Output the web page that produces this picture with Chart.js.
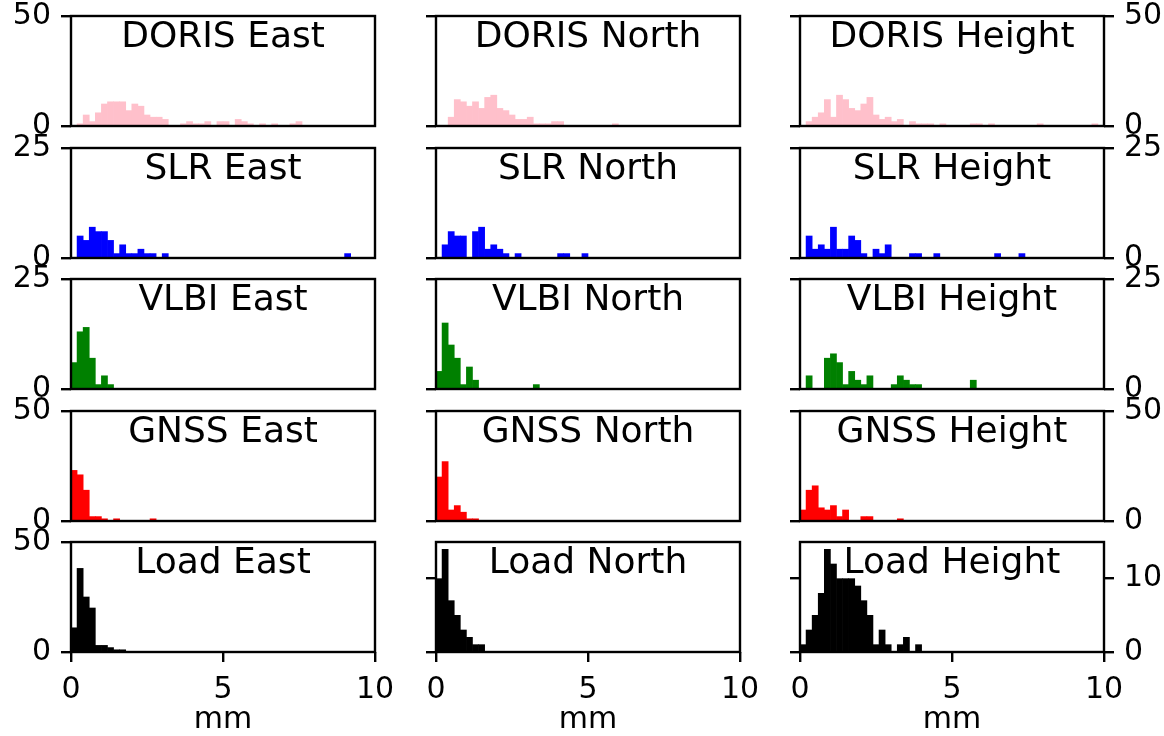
<!DOCTYPE html>
<html>
<head>
<meta charset="utf-8">
<title>Residual histograms</title>
<script src="https://cdn.jsdelivr.net/npm/chart.js@4.4.1/dist/chart.umd.min.js"></script>
<style>
  html, body { margin: 0; padding: 0; background: #fff; }
  #figure { position: relative; width: 1164px; height: 736px; overflow: hidden; }
  #figure canvas { position: absolute; }
</style>
</head>
<body>
<div id="figure"></div>
<script>
// Counts per 0.2 mm bin, first bin starts at 0 mm
const binWidth = 0.2;
const xTicks = [0, 5, 10];

const dorisEast = [0, 1, 5, 2, 6, 10, 11, 11, 11, 7, 10, 9, 5, 4, 4, 3, 0, 0, 1, 2, 1, 1, 2, 0, 2, 2, 0, 3, 2, 1, 0, 1, 0, 1, 0, 0, 1, 2];
const dorisNorth = [0, 0, 4, 12, 11, 9, 11, 8, 13, 14, 8, 7, 5, 3, 3, 4, 1, 1, 1, 2, 2, 0, 0, 0, 0, 0, 0, 0, 0, 1];
const dorisHeight = [0, 2, 4, 6, 12, 4, 14, 12, 8, 7, 10, 13, 5, 3, 4, 2, 3, 0, 2, 1, 1, 1, 0, 1, 0, 0, 0, 0, 1, 1, 0, 1, 0, 0, 0, 0, 0, 0, 0, 1, 0, 0, 0, 0, 0, 0, 0, 0, 1];

const slrEast = [0, 5, 4, 7, 6, 6, 4, 1, 3, 1, 1, 2, 1, 1, 0, 1, 0, 0, 0, 0, 0, 0, 0, 0, 0, 0, 0, 0, 0, 0, 0, 0, 0, 0, 0, 0, 0, 0, 0, 0, 0, 0, 0, 0, 0, 1];
const slrNorth = [0, 3, 6, 5, 5, 0, 6, 7, 2, 3, 2, 1, 0, 1, 0, 0, 0, 0, 0, 0, 1, 1, 0, 0, 1];
const slrHeight = [0, 5, 2, 3, 2, 7, 2, 2, 5, 4, 1, 0, 2, 1, 3, 0, 0, 0, 1, 1, 0, 0, 1, 0, 0, 0, 0, 0, 0, 0, 0, 0, 1, 0, 0, 0, 1];

const vlbiEast = [6, 13, 14, 7, 1, 3, 1];
const vlbiNorth = [4, 15, 10, 7, 1, 5, 2, 0, 0, 0, 0, 0, 0, 0, 0, 0, 1];
const vlbiHeight = [0, 3, 0, 0, 7, 8, 6, 1, 4, 2, 1, 3, 0, 0, 0, 1, 3, 2, 1, 1, 0, 0, 0, 0, 0, 0, 0, 0, 2];

const gnssEast = [23, 21, 14, 2, 2, 1, 0, 1, 0, 0, 0, 0, 0, 1];
const gnssNorth = [20, 27, 5, 7, 4, 1, 1];
const gnssHeight = [5, 14, 16, 6, 5, 7, 2, 5, 0, 0, 2, 2, 0, 0, 0, 0, 1];

const loadEast = [11, 38, 25, 20, 3, 3, 2, 1, 1];
const loadNorth = [10, 14, 7, 5, 3, 2, 1, 1];
const loadHeight = [1, 3, 5, 8, 14, 12, 10, 10, 10, 9, 7, 5, 1, 3, 1, 0, 1, 2, 0, 1];

const techniques = ['DORIS', 'SLR', 'VLBI', 'GNSS', 'Load'];
const components = ['East', 'North', 'Height'];

const counts = [
  [dorisEast, dorisNorth, dorisHeight],
  [slrEast, slrNorth, slrHeight],
  [vlbiEast, vlbiNorth, vlbiHeight],
  [gnssEast, gnssNorth, gnssHeight],
  [loadEast, loadNorth, loadHeight]
];

const yMax = [
  [50, 50, 50],
  [25, 25, 25],
  [25, 25, 25],
  [50, 50, 50],
  [50, 15, 15]
];

const yTicks = [
  [[0, 50], [0, 50], [0, 50]],
  [[0, 25], [0, 25], [0, 25]],
  [[0, 25], [0, 25], [0, 25]],
  [[0, 50], [0, 50], [0, 50]],
  [[0, 50], [0, 10], [0, 10]]
];

const barColors = ['pink', 'blue', 'green', 'red', 'black'];

// grid geometry (px)
const plotLeft = [71, 436, 800];
const plotTop = [16, 148, 279, 411, 542];
const plotW = 304;
const plotH = 110;
const sideW = 80;
const padTop = 30;
const lastRowBottom = 86;

Chart.defaults.font.family = '"DejaVu Sans", sans-serif';
Chart.defaults.font.size = 30;
Chart.defaults.color = '#000';

// box round the axes plus the title written inside its top
const panelDecor = {
  id: 'panelDecor',
  afterDatasetsDraw(chart, args, opts) {
    const { ctx, chartArea: a } = chart;
    ctx.save();
    ctx.strokeStyle = '#000';
    ctx.lineWidth = 2.4;
    ctx.strokeRect(a.left, a.top, a.right - a.left, a.bottom - a.top);
    ctx.fillStyle = '#000';
    ctx.font = '36px "DejaVu Sans"';
    ctx.textAlign = 'center';
    ctx.textBaseline = 'alphabetic';
    ctx.fillText(opts.text, (a.left + a.right) / 2, a.top + 31);
    ctx.restore();
  }
};

function fixedTicks(values) {
  return function(scale) {
    scale.ticks = values.map(v => ({ value: v }));
  };
}

function yAxis(position, max, ticks, showLabels) {
  return {
    type: 'linear',
    axis: 'y',
    position: position,
    min: 0,
    max: max,
    afterBuildTicks: fixedTicks(ticks),
    afterFit: function(scale) { scale.width = sideW; },
    ticks: { display: showLabels, padding: 10, color: '#000' },
    grid: { display: true, drawOnChartArea: false, drawTicks: true, tickLength: 10, color: '#000', lineWidth: 2.4 },
    border: { display: false }
  };
}

function xAxis(isLastRow) {
  const axis = {
    type: 'linear',
    min: 0,
    max: 10,
    offset: false,
    display: isLastRow,
    afterBuildTicks: fixedTicks(xTicks),
    ticks: { padding: 10, color: '#000', maxRotation: 0, autoSkip: false },
    grid: { display: true, offset: false, drawOnChartArea: false, drawTicks: true, tickLength: 10, color: '#000', lineWidth: 2.4 },
    border: { display: false },
    title: { display: true, text: 'mm', color: '#000', padding: { top: 0, bottom: 0 } }
  };
  if (isLastRow) {
    axis.afterFit = function(scale) { scale.height = lastRowBottom; };
  }
  return axis;
}

const figure = document.getElementById('figure');

for (let r = 0; r < techniques.length; r++) {
  for (let c = 0; c < components.length; c++) {
    const isLastRow = r === techniques.length - 1;
    const isRightCol = c === components.length - 1;

    const canvas = document.createElement('canvas');
    const w = sideW + plotW + sideW;
    const h = padTop + plotH + (isLastRow ? lastRowBottom : padTop);
    canvas.width = w;
    canvas.height = h;
    canvas.style.left = (plotLeft[c] - sideW) + 'px';
    canvas.style.top = (plotTop[r] - padTop) + 'px';
    canvas.style.width = w + 'px';
    canvas.style.height = h + 'px';
    figure.appendChild(canvas);

    const bins = counts[r][c].map((n, i) => ({ x: (i + 0.5) * binWidth, y: n }));

    const scales = { x: xAxis(isLastRow) };
    if (isRightCol) {
      scales.y = yAxis('right', yMax[r][c], yTicks[r][c], true);
      scales.yl = yAxis('left', yMax[r][c], yTicks[r][c], false);
    } else {
      scales.y = yAxis('left', yMax[r][c], yTicks[r][c], c === 0);
    }

    new Chart(canvas, {
      type: 'bar',
      data: {
        datasets: [{
          data: bins,
          backgroundColor: barColors[r],
          borderWidth: 0,
          barPercentage: 1,
          categoryPercentage: 1,
          xAxisID: 'x',
          yAxisID: 'y'
        }]
      },
      options: {
        responsive: false,
        animation: false,
        devicePixelRatio: 1,
        layout: {
          padding: {
            top: padTop,
            left: 0,
            right: isRightCol ? 0 : sideW,
            bottom: isLastRow ? 0 : padTop
          }
        },
        scales: scales,
        plugins: {
          legend: { display: false },
          tooltip: { enabled: false },
          panelDecor: { text: techniques[r] + ' ' + components[c] }
        }
      },
      plugins: [panelDecor]
    });
  }
}
</script>
</body>
</html>
